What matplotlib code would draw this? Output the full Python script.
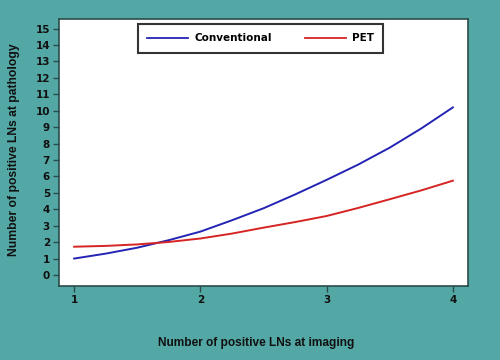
import matplotlib
matplotlib.use("Agg")
import matplotlib.pyplot as plt

# valores
imaging = [1.0, 1.25, 1.5, 1.75, 2.0, 2.25, 2.5, 2.75, 3.0, 3.25, 3.5, 3.75, 4.0]
conventional = [1.00, 1.30, 1.66, 2.12, 2.64, 3.33, 4.06, 4.90, 5.79, 6.72, 7.75, 8.92, 10.20]
pet = [1.72, 1.77, 1.86, 2.01, 2.22, 2.52, 2.88, 3.22, 3.59, 4.08, 4.61, 5.15, 5.74]
x_ticks = [1, 2, 3, 4]
y_ticks = list(range(0, 16))

bg = "#53a8a5"
spine = "#2b4b49"

fig = plt.figure(figsize=(5, 3.6), dpi=100, facecolor=bg)
ax = fig.add_axes([0.118, 0.2056, 0.818, 0.742])
ax.set_facecolor("white")

ax.plot(imaging, conventional, color="#2424b4", lw=1.4, label="Conventional")
ax.plot(imaging, pet, color="#d62424", lw=1.4, label="PET")

ax.set_xlim(0.88, 4.12)
ax.set_ylim(-0.67, 15.59)
ax.set_xticks(x_ticks)
ax.set_yticks(y_ticks)

for s in ax.spines.values():
    s.set_color(spine)
    s.set_linewidth(1.2)

ax.tick_params(axis="both", direction="out", length=4.5, width=1, color=spine,
               labelsize=7.5, pad=2, labelcolor="#111111")
for lab in ax.get_xticklabels() + ax.get_yticklabels():
    lab.set_fontweight("bold")
    lab.set_family("DejaVu Sans")

ax.set_xlabel("Number of positive LNs at imaging", fontsize=8.6, fontweight="bold",
              family="Liberation Sans", color="#111111")
ax.xaxis.set_label_coords(0.482, -0.19)
ax.set_ylabel("Number of positive LNs at pathology", fontsize=8.7, fontweight="bold",
              family="Liberation Sans", color="#111111")
ax.yaxis.set_label_coords(-0.095, 0.51)

leg = ax.legend(loc="upper center", bbox_to_anchor=(0.493, 0.981), ncol=2,
                frameon=True, fancybox=False, handlelength=3.9, handletextpad=0.6,
                columnspacing=3.2, borderpad=0.9, borderaxespad=0,
                prop={"family": "DejaVu Sans", "weight": "bold", "size": 7.5})
leg.get_frame().set_edgecolor("black")
leg.get_frame().set_linewidth(1.5)
for line in leg.get_lines():
    line.set_linewidth(1.3)

fig.savefig("out.png", dpi=100, facecolor=bg)
